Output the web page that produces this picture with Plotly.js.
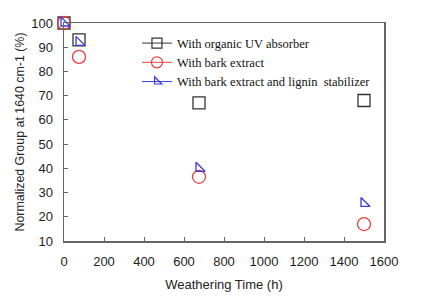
<!DOCTYPE html>
<html><head><meta charset="utf-8">
<script src="https://cdn.plot.ly/plotly-3.0.1.min.js"></script>
<style>html,body{margin:0;padding:0;background:#fff}#c{width:421px;height:297px}</style>
</head><body><div id="c"></div>
<script>
var times = [0, 75, 675, 1500];
var organicUV = [100, 93, 67, 68];
var barkExtract = [100, 86, 36.5, 17];
var barkLignin = [100, 92, 40, 25.5];
var names = ["With organic UV absorber", "With bark extract", "With bark extract and lignin  stabilizer"];

var styles = [
  {color: "#333333", symbol: "square-open", size: 12},
  {color: "#e8403c", symbol: "circle-open", size: 13},
  {color: "#3a3ae0", symbol: "triangle-sw-open", size: 10}
];
var series = [organicUV, barkExtract, barkLignin];
var traces = [];
series.forEach(function(s, i){
  traces.push({x: times, y: s, type: "scatter", mode: "markers", showlegend: false, cliponaxis: false,
    marker: {symbol: styles[i].symbol, size: styles[i].size, color: styles[i].color, line: {width: 1.3, color: styles[i].color}}});
});
series.forEach(function(s, i){
  traces.push({x: [null], y: [null], type: "scatter", mode: "lines+markers", name: names[i],
    line: {color: styles[i].color, width: 1},
    marker: {symbol: styles[i].symbol, size: styles[i].size - 2, color: styles[i].color, line: {width: 1.2, color: styles[i].color}}});
});

var axisCommon = {
  showgrid: false, zeroline: false, showline: true, linecolor: "#666", linewidth: 1.5,
  mirror: true, ticks: "inside", ticklen: 4, tickcolor: "#666", tickwidth: 1,
  tickfont: {family: "Liberation Sans, Arial", size: 13, color: "#222"}
};
var layout = {
  width: 421, height: 297,
  margin: {l: 64, r: 37, t: 23, b: 56},
  paper_bgcolor: "#fff", plot_bgcolor: "#fff",
  xaxis: Object.assign({}, axisCommon, {range: [0, 1600], dtick: 200, ticklabelstandoff: 8,
    title: {text: "Weathering Time (h)", font: {family: "Liberation Sans, Arial", size: 13, color: "#222"}, standoff: 12}}),
  yaxis: Object.assign({}, axisCommon, {range: [10, 100], dtick: 10, ticklabelstandoff: 7,
    title: {text: "Normalized Group at 1640 cm-1 (%)", font: {family: "Liberation Sans, Arial", size: 12.4, color: "#222"}, standoff: 4}}),
  legend: {x: 0.228, y: 0.975, xanchor: "left", yanchor: "top", bgcolor: "rgba(0,0,0,0)",
    font: {family: "Liberation Serif, Times New Roman", size: 12.5, color: "#111"},
    tracegroupgap: 0, itemwidth: 30},
  showlegend: true
};
Plotly.newPlot("c", traces, layout, {displayModeBar: false, staticPlot: true});
</script></body></html>
